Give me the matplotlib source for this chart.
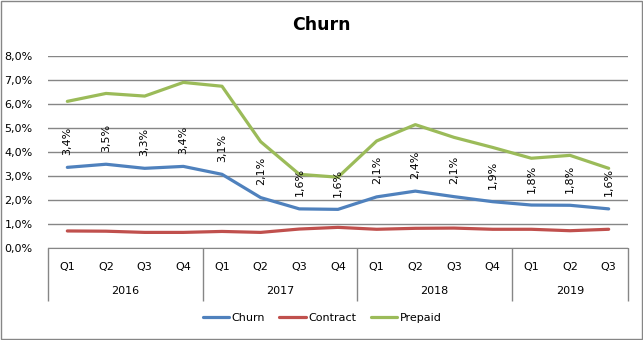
import matplotlib
matplotlib.use('Agg')
import matplotlib.pyplot as plt
from matplotlib.patches import Rectangle
from matplotlib.ticker import FuncFormatter

quarters = ['Q1', 'Q2', 'Q3', 'Q4'] * 3 + ['Q1', 'Q2', 'Q3']
years = ['2016', '2017', '2018', '2019']
year_sizes = [4, 4, 4, 3]

churn = [3.36, 3.49, 3.32, 3.40, 3.07, 2.10, 1.63, 1.61, 2.13, 2.37, 2.14, 1.93, 1.79, 1.78, 1.63]
contract = [0.71, 0.70, 0.65, 0.65, 0.69, 0.65, 0.79, 0.86, 0.78, 0.82, 0.83, 0.78, 0.78, 0.72, 0.78]
prepaid = [6.11, 6.44, 6.33, 6.90, 6.74, 4.43, 3.07, 2.95, 4.46, 5.14, 4.61, 4.19, 3.74, 3.86, 3.32]

BLUE = '#4F81BD'
RED = '#C0504D'
GREEN = '#9BBB59'
GRID = '#868686'


def pct(v, _=None):
    return f'{v:.1f}%'.replace('.', ',')


fig = plt.figure(figsize=(6.43, 3.40), dpi=100)
ax = fig.add_axes([48 / 643, 1 - 248 / 340, 580 / 643, 192 / 340])

x = list(range(len(quarters)))
ax.plot(x, churn, color=BLUE, lw=2.3, label='Churn', solid_capstyle='round')
ax.plot(x, contract, color=RED, lw=2.3, label='Contract', solid_capstyle='round')
ax.plot(x, prepaid, color=GREEN, lw=2.3, label='Prepaid', solid_capstyle='round')

# data labels on the churn series
for xi, v in zip(x, churn):
    ax.annotate(f'{v:.1f}%'.replace('.', ','), (xi, v), xytext=(0, 9),
                textcoords='offset points', rotation=90, ha='center', va='bottom',
                fontsize=8, color='black')

ax.set_xlim(-0.5, len(quarters) - 0.5)
ax.set_ylim(0, 8)
ax.set_yticks(range(0, 9))
ax.yaxis.set_major_formatter(FuncFormatter(pct))
ax.tick_params(axis='y', length=0, pad=11, labelsize=8)
ax.yaxis.grid(True, color=GRID, lw=1)
ax.set_axisbelow(True)

for s in ['top', 'right', 'left']:
    ax.spines[s].set_visible(False)
ax.spines['bottom'].set_color(GRID)

# quarter labels as major ticks, year separators as minor ticks
ax.set_xticks(x)
ax.set_xticklabels(quarters, fontsize=8)
ax.tick_params(axis='x', which='major', length=0, pad=10)
bounds = [-0.5]
for n in year_sizes:
    bounds.append(bounds[-1] + n)
ax.set_xticks(bounds, minor=True)
ax.tick_params(axis='x', which='minor', length=38, width=1, color=GRID, direction='out')

start = -0.5
for yr, n in zip(years, year_sizes):
    ax.text(start + n / 2, -0.225, yr, transform=ax.get_xaxis_transform(),
            ha='center', va='center', fontsize=8)
    start += n

fig.suptitle('Churn', fontsize=12.5, fontweight='bold', y=1 - 25 / 340, va='center')

fig.legend(loc='center', bbox_to_anchor=(322 / 643, 1 - 318 / 340), ncol=3,
           frameon=False, fontsize=8, handlelength=2.4, handletextpad=0.2,
           columnspacing=1.3)

fig.patches.append(Rectangle((0.0008, 0.0015), 0.9975, 0.996, transform=fig.transFigure,
                             fill=False, edgecolor=GRID, lw=1))

fig.savefig('out.png', dpi=100)
